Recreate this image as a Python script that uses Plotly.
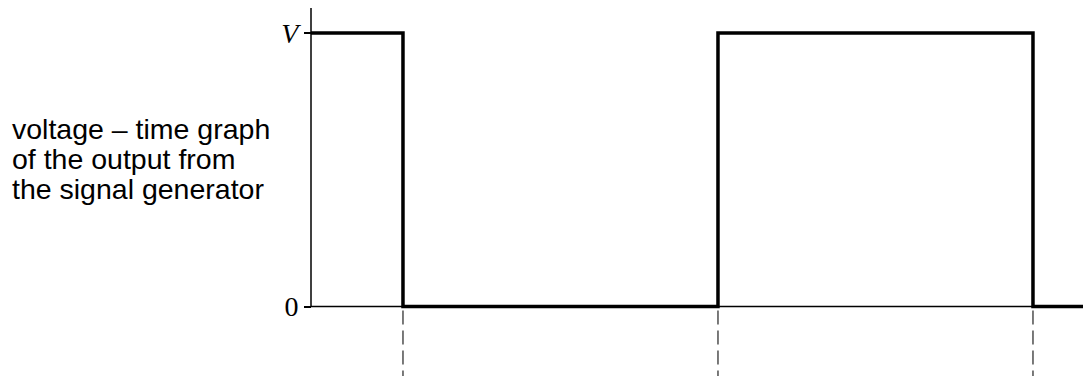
import plotly.graph_objects as go

# Square-wave output (time in half-periods, voltage as fraction of V)
time = [0, 0.292, 0.292, 1.292, 1.292, 2.292, 2.292, 2.476]
voltage = [1, 1, 0, 0, 1, 1, 0, 0]
edge_times = [0.292, 1.292, 2.292]
tick_vals = [0, 1]
tick_text = ["0", "<i>V</i>"]
caption = ["voltage \u2013 time graph", "of the output from", "the signal generator"]

OFF = 8  # page body margin
W, H = 1091 - OFF, 376 - OFF
L = 290 - OFF
px_per_unit = 315.0
x0_px = 311 - OFF
xmin = -(x0_px - L) / px_per_unit
xmax = (W - L) / px_per_unit + xmin

y_V, y_0 = 33.0 - OFF, 306.5 - OFF
ppu_y = y_0 - y_V
ymax = 1 + y_V / ppu_y
ymin = -(H - y_0) / ppu_y

fig = go.Figure()

# axis lines
fig.add_trace(go.Scatter(x=[0, 0], y=[0, 1 + 26 / ppu_y], mode="lines",
                         line=dict(color="black", width=1.5), hoverinfo="skip", showlegend=False))
fig.add_trace(go.Scatter(x=[0, xmax], y=[0, 0], mode="lines",
                         line=dict(color="black", width=1.5), hoverinfo="skip", showlegend=False))

# dashed markers below edges
for t in edge_times:
    fig.add_trace(go.Scatter(x=[t, t], y=[-4 / ppu_y, ymin], mode="lines",
                             line=dict(color="#222222", width=1.2, dash="14px,6px"),
                             hoverinfo="skip", showlegend=False))

# signal
fig.add_trace(go.Scatter(x=time, y=voltage, mode="lines",
                         line=dict(color="black", width=3.5, shape="linear"),
                         hoverinfo="skip", showlegend=False))

for i, line in enumerate(caption):
    p = 129 + 30 * i - OFF
    fig.add_annotation(text=line, xref="paper", yref="paper",
                       x=(10 - OFF - L) / (W - L), y=1 - p / H, xanchor="left", yanchor="middle",
                       showarrow=False, font=dict(family="Liberation Sans, Arial", size=28.5, color="black"))

fig.update_layout(
    width=W, height=H,
    margin=dict(l=L, r=0, t=0, b=0),
    paper_bgcolor="white", plot_bgcolor="white",
    xaxis=dict(range=[xmin, xmax], visible=False),
    yaxis=dict(range=[ymin, ymax], anchor="free", position=(x0_px - L) / (W - L),
               showline=False, showgrid=False, zeroline=False,
               tickvals=tick_vals, ticktext=tick_text, ticks="outside", ticklen=7,
               tickwidth=1.5, tickcolor="black",
               tickfont=dict(family="Liberation Serif, Times New Roman", size=28, color="black")),
)

fig.write_html("out.html")
